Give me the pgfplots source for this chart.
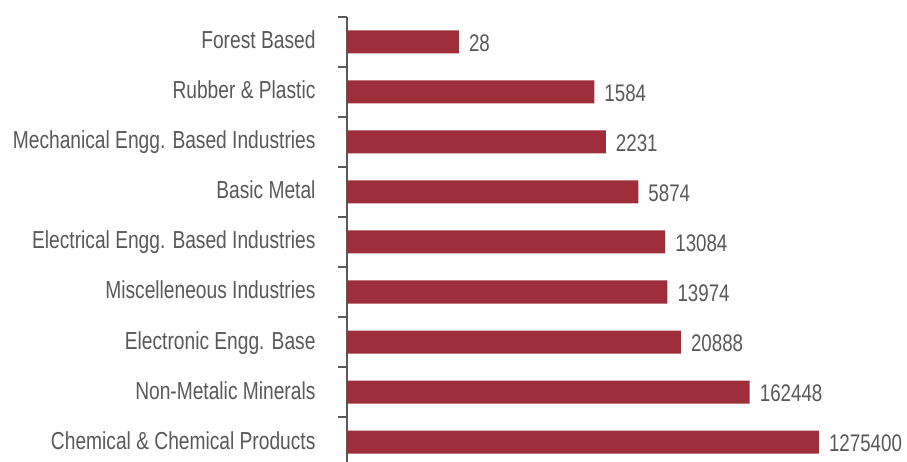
\documentclass[border=0pt]{standalone}
\usepackage{pgfplots}
\pgfplotsset{compat=1.18}
\usepackage{fontspec}
\setmainfont[FakeStretch=0.78]{Liberation Sans}
\definecolor{barred}{RGB}{158,47,58}
\definecolor{txtgray}{RGB}{89,89,89}
\definecolor{axgray}{RGB}{89,89,89}
\begin{document}
\begin{tikzpicture}
\begin{axis}[
  at={(0pt,0pt)}, anchor=south west,
  scale only axis,
  width=541pt, height=450pt,
  xmode=log, xmin=1, xmax=1e7,
  ymin=-0.5, ymax=8.5,
  enlarge y limits=false,
  axis x line=none,
  axis y line=left,
  axis line style={-, draw=axgray, line width=1.6pt},
  xbar, bar width=23pt,
  ytick={0,...,8},
  yticklabels={Chemical \& Chemical Products, Non-Metalic Minerals, Electronic Engg. Base, Miscelleneous Industries, Electrical Engg. Based Industries, Basic Metal, Mechanical Engg. Based Industries, Rubber \& Plastic, Forest Based},
  major tick length=0pt,
  minor ytick={-0.5,0.5,...,8.5},
  minor tick length=9pt,
  tick align=outside,
  tick style={draw=axgray, line width=1.6pt},
  yticklabel style={font=\fontsize{24.6}{27}\selectfont, text=txtgray, anchor=base east, yshift=-7pt, xshift=-28pt},
  nodes near coords,
  point meta=explicit symbolic,
  nodes near coords style={font=\fontsize{24}{27}\selectfont, text=txtgray, anchor=base west, inner sep=0pt, xshift=10pt, yshift=-9.5pt},
  clip=false,
]
\addplot[fill=barred, draw=none] coordinates {
  (1275400,0) [1275400]
  (162448,1) [162448]
  (20888,2) [20888]
  (13974,3) [13974]
  (13084,4) [13084]
  (5874,5) [5874]
  (2231,6) [2231]
  (1584,7) [1584]
  (28,8) [28]
};
\end{axis}
\pgfresetboundingbox
\path (-347pt,6pt) rectangle (560pt,467pt);
\end{tikzpicture}
\end{document}
